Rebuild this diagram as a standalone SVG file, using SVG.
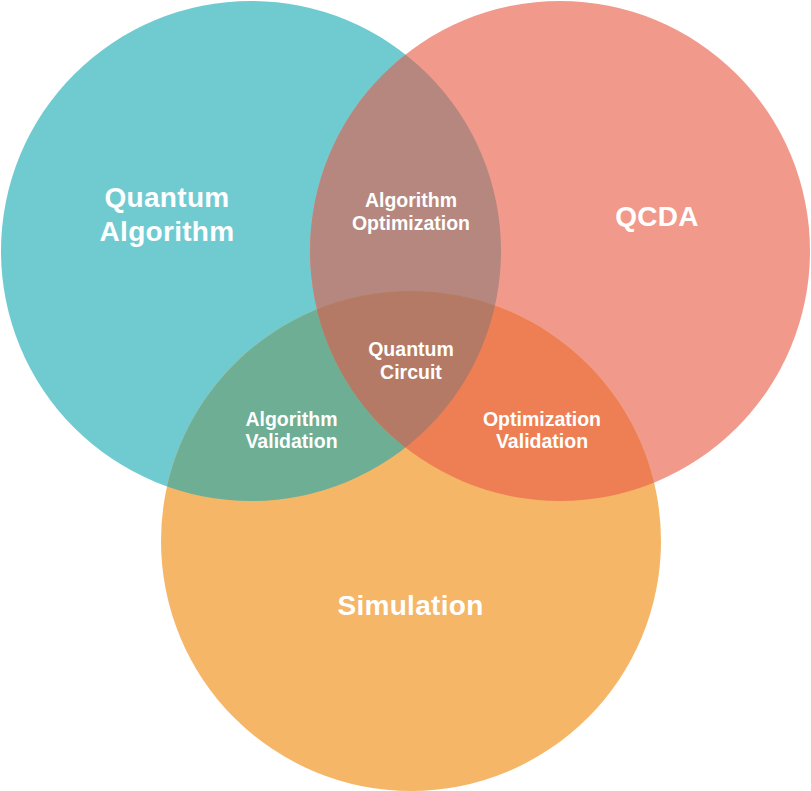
<svg xmlns="http://www.w3.org/2000/svg" width="811" height="791" viewBox="0 0 811 791">
  <style>
    .lbl { font-family: "Liberation Sans", Arial, Helvetica, sans-serif; font-weight: bold; fill: #ffffff; text-anchor: middle; }
    .big { font-size: 28px; letter-spacing: 0.3px; }
    .small { font-size: 19.5px; }
  </style>
  <defs>
    <clipPath id="clipTeal"><circle cx="251" cy="251" r="250"/></clipPath>
    <clipPath id="clipSalmon"><circle cx="560" cy="251" r="250"/></clipPath>
    <clipPath id="clipOrange"><circle cx="411" cy="541" r="250"/></clipPath>
  </defs>
  <rect width="811" height="791" fill="#ffffff"/>

  <g id="quantum-algorithm">
    <circle cx="251" cy="251" r="250" fill="#70cbd1"/>
  </g>
  <g id="qcda">
    <circle cx="560" cy="251" r="250" fill="#f19a8c"/>
  </g>
  <g id="simulation">
    <circle cx="411" cy="541" r="250" fill="#f5b668"/>
  </g>
  <g id="algorithm-optimization">
    <circle cx="560" cy="251" r="250" fill="#b5877e" clip-path="url(#clipTeal)"/>
  </g>
  <g id="algorithm-validation">
    <circle cx="411" cy="541" r="250" fill="#6dae95" clip-path="url(#clipTeal)"/>
  </g>
  <g id="optimization-validation">
    <circle cx="411" cy="541" r="250" fill="#ee7f55" clip-path="url(#clipSalmon)"/>
  </g>
  <g id="quantum-circuit">
    <g clip-path="url(#clipSalmon)">
      <circle cx="411" cy="541" r="250" fill="#b47a65" clip-path="url(#clipTeal)"/>
    </g>
  </g>

  <g id="labels">
    <text class="lbl big" x="167" y="207">Quantum</text>
    <text class="lbl big" x="167" y="241">Algorithm</text>
    <text class="lbl big" x="657" y="226">QCDA</text>
    <text class="lbl big" x="410.5" y="615">Simulation</text>
    <text class="lbl small" x="411" y="207">Algorithm</text>
    <text class="lbl small" x="411" y="230">Optimization</text>
    <text class="lbl small" x="411" y="356">Quantum</text>
    <text class="lbl small" x="411" y="379">Circuit</text>
    <text class="lbl small" x="291.5" y="426">Algorithm</text>
    <text class="lbl small" x="291.5" y="448">Validation</text>
    <text class="lbl small" x="542" y="426">Optimization</text>
    <text class="lbl small" x="542" y="448">Validation</text>
  </g>
</svg>
